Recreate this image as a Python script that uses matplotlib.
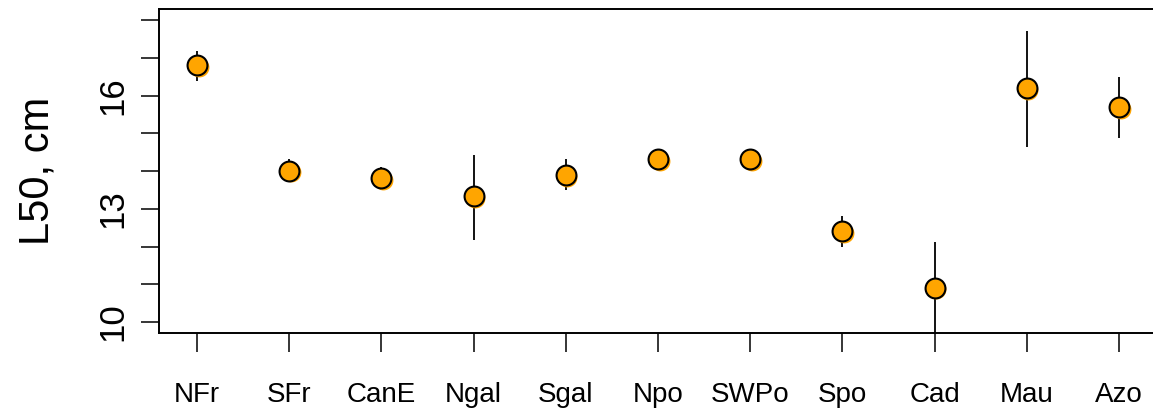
import matplotlib
matplotlib.use("Agg")
import matplotlib.pyplot as plt
import matplotlib.transforms as mtransforms
import numpy as np

plt.rcParams['font.family'] = ['Liberation Sans', 'DejaVu Sans']

sites = ["NFr", "SFr", "CanE", "Ngal", "Sgal", "Npo", "SWPo", "Spo", "Cad", "Mau", "Azo"]
l50 = [16.81, 14.01, 13.81, 13.33, 13.90, 14.32, 14.31, 12.40, 10.91, 16.20, 15.70]
lower = [16.39, 13.70, 13.50, 12.18, 13.50, 14.10, 14.10, 12.00, 9.71, 14.64, 14.87]
upper = [17.19, 14.32, 14.10, 14.42, 14.32, 14.55, 14.55, 12.80, 12.11, 17.72, 16.49]
yticks_all = [10, 11, 12, 13, 14, 15, 16, 17, 18]
ytick_labels = ["10", "", "", "13", "", "", "16", "", ""]

W, H, DPI = 1153, 411, 100
fig = plt.figure(figsize=(W / DPI, H / DPI), dpi=DPI)
left_px, right_px, top_px, bottom_px = 159, 1153, 9, 333
ax = fig.add_axes([left_px / W, 1 - bottom_px / H, (right_px - left_px) / W, (bottom_px - top_px) / H])

x = np.arange(1, len(sites) + 1)
ax.vlines(x, lower, upper, color='black', lw=1.3, zorder=2)

shadow = ax.transData + mtransforms.ScaledTranslation(1.6 / DPI, -1.6 / DPI, fig.dpi_scale_trans)
ax.plot(x, l50, 'o', ms=14.3, color='#FFA500', mec='#FFA500', mew=0, transform=shadow, zorder=3)
ax.plot(x, l50, 'o', ms=14.3, mfc='#FFA500', mec='black', mew=1.5, zorder=4)

ax.set_xlim(0.588, 11.369)
ax.set_ylim(9.708, 18.30)

ax.set_xticks(x)
ax.set_xticklabels(sites, fontsize=20)
ax.set_yticks(yticks_all)
ax.set_yticklabels(ytick_labels, fontsize=25, rotation=90, va='center')

ax.tick_params(axis='x', length=13.5, width=1.1, pad=22)
ax.tick_params(axis='y', length=13, width=1.1, pad=8)
for s in ['left', 'bottom', 'top']:
    ax.spines[s].set_linewidth(1.4)
ax.spines['right'].set_visible(False)

ax.set_ylabel("L50, cm", fontsize=30, labelpad=28)

fig.savefig("out.png", dpi=DPI)
